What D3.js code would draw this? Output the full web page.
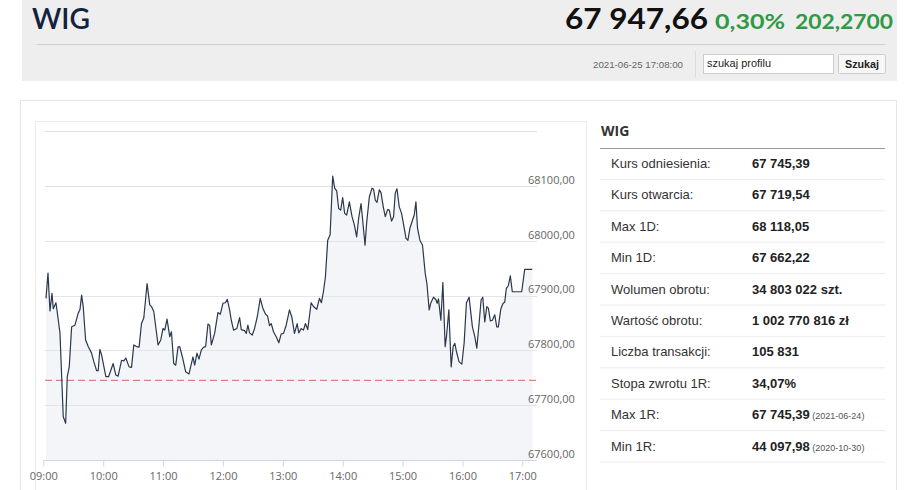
<!DOCTYPE html>
<html><head><meta charset="utf-8">
<script src="https://cdn.jsdelivr.net/npm/d3@7"></script>
<style>
html,body{margin:0;padding:0;background:#fff;}
svg{display:block;}
</style></head>
<body>
<div id="chart"></div>
<script>
// ---- data ----
const minutesAfterOpen = [2.7,4.7,6.7,8.7,10,12.7,16.7,20,22.4,24,26,28.4,31.7,35,36.7,38.4,40,42.4,45,48.4,50.7,53.4,55,56.7,58.4,62.7,65.4,70,72.7,75,78.4,80.7,82.7,86,88.4,90.7,93.4,96,98.4,100.7,104,106.7,108.4,110.7,115,117.7,120,121.7,124,126.7,128.4,130.7,132.7,135,136.7,139.4,142.7,146,150,151.7,154,156,158.4,160.7,162.7,165,166.7,168.4,171.7,175,177.4,180,182.4,184.4,186.7,188.4,190.7,194,196.7,198.4,201.7,203.4,205,206.7,209.4,211.7,214.4,217.4,220,222.7,224.7,226.7,228.4,230.7,233.4,236,238.4,240.7,243.4,246.7,249,251.7,254.4,256,258.4,260.7,262.7,265,268.4,270.7,274,276.7,278.7,280.7,282.7,285,287.4,290,292,294,296,298,300,302,304,306.7,309.4,311.7,314,316,318.4,320,322.4,324,326.7,329.4,331,332.7,334.4,336.7,338.4,340.7,342.7,345,346.7,349,351,352.7,354.4,356.7,359,361.7,363.4,365.4,367.4,370,371.7,373.4,375,377.4,380,382.7,384.4,386.7,388.4,391,393.4,394.7,396,398.4,400.4,402.7,404,406.4,408.7,410.7,412.4,414,416.7,419.4,421.7,424,426.7,428.4,430,432.4,434.4,436.7,438.7,440.4,442.4,444.4,446,448,450,452.4,454.4,456,458.4,460.7,462.4,464,466,468,470,472,479.4,482.4,490];
const prices = [67895,67941,67872,67904,67876,67887,67832,67679,67667,67752,67770,67843,67846,67868,67874,67901,67880,67819,67807,67795,67779,67763,67763,67802,67792,67752,67752,67776,67755,67753,67782,67781,67786,67770,67769,67810,67807,67806,67849,67859,67922,67883,67880,67871,67810,67819,67840,67837,67857,67825,67834,67776,67773,67806,67807,67788,67761,67757,67788,67773,67795,67784,67801,67806,67807,67848,67846,67810,67831,67869,67866,67886,67887,67893,67874,67855,67837,67840,67860,67838,67836,67831,67846,67832,67828,67840,67861,67895,67877,67866,67863,67845,67849,67834,67825,67814,67830,67831,67846,67874,67861,67831,67849,67832,67840,67837,67849,67838,67887,67880,67875,67895,67887,67907,67934,68001,68011,68118,68096,68091,68059,68056,68079,68050,68047,68071,68044,68029,68007,68041,68068,68038,67992,68032,68080,68096,68094,68074,68070,68093,68088,68062,68044,68057,68056,68036,68044,68087,68095,68062,68050,68023,68005,68001,68023,68038,68047,68071,68023,68001,67992,67941,67922,67874,67887,67897,67893,67886,67894,67855,67924,67807,67825,67874,67770,67807,67813,67798,67779,67775,67813,67887,67897,67869,67843,67825,67804,67849,67892,67897,67852,67880,67877,67854,67855,67865,67843,67843,67875,67886,67888,67913,67918,67936,67907,67907,67907,67948,67948];
const referencePrice = 67745.39;
const yTickValues = [67600,67700,67800,67900,68000,68100,68200];
const yTickLabels = ["67600,00","67700,00","67800,00","67900,00","68000,00","68100,00",""];
const xTickLabels = ["09:00","10:00","11:00","12:00","13:00","14:00","15:00","16:00","17:00"];

const headerName = "WIG";
const headerPrice = "67 947,66";
const headerChangePct = "0,30%";
const headerChange = "202,2700";
const headerDate = "2021-06-25 17:08:00";

const statLabels = ["Kurs odniesienia:","Kurs otwarcia:","Max 1D:","Min 1D:","Wolumen obrotu:","Wartość obrotu:","Liczba transakcji:","Stopa zwrotu 1R:","Max 1R:","Min 1R:"];
const statValues = ["67 745,39","67 719,54","68 118,05","67 662,22","34 803 022 szt.","1 002 770 816 zł","105 831","34,07%","67 745,39","44 097,98"];
const statNotes = ["","","","","","","","","(2021-06-24)","(2020-10-30)"];

// ---- drawing ----
const W = 918, H = 490;
const svg = d3.select("#chart").append("svg").attr("width", W).attr("height", H);

// header
svg.append("rect").attr("x",22).attr("y",0).attr("width",875).attr("height",81).attr("fill","#eeeeee");
svg.append("text").attr("x",32).attr("y",28.5).text(headerName)
  .attr("font-family","Lato").attr("font-weight",600).attr("font-size",29).attr("fill","#14233d")
  .attr("textLength",58).attr("lengthAdjust","spacingAndGlyphs");
svg.append("text").attr("x",708).attr("y",29).attr("text-anchor","end").text(headerPrice)
  .attr("font-family","Lato").attr("font-weight",700).attr("font-size",29).attr("fill","#111")
  .attr("textLength",143).attr("lengthAdjust","spacingAndGlyphs");
svg.append("text").attr("x",715).attr("y",29).text(headerChangePct)
  .attr("font-family","Lato").attr("font-weight",700).attr("font-size",21).attr("fill","#2f9a45")
  .attr("textLength",70).attr("lengthAdjust","spacingAndGlyphs");
svg.append("text").attr("x",795).attr("y",29).text(headerChange)
  .attr("font-family","Lato").attr("font-weight",700).attr("font-size",21).attr("fill","#2f9a45")
  .attr("textLength",98).attr("lengthAdjust","spacingAndGlyphs");
svg.append("line").attr("x1",37).attr("x2",885).attr("y1",44.5).attr("y2",44.5).attr("stroke","#cfcfcf");
svg.append("text").attr("x",683).attr("y",68).attr("text-anchor","end").text(headerDate)
  .attr("font-family","Liberation Sans Narrow, Liberation Sans").attr("font-size",9).attr("fill","#666")
  .attr("textLength",90).attr("lengthAdjust","spacingAndGlyphs");
svg.append("line").attr("x1",695.5).attr("x2",695.5).attr("y1",51).attr("y2",78).attr("stroke","#dcdcdc");
svg.append("rect").attr("x",703.5).attr("y",54.5).attr("width",130).attr("height",19).attr("fill","#fff").attr("stroke","#cccccc");
svg.append("text").attr("x",707).attr("y",67).text("szukaj profilu")
  .attr("font-family","Liberation Sans Narrow, Liberation Sans").attr("font-size",11).attr("fill","#222")
  .attr("textLength",64).attr("lengthAdjust","spacingAndGlyphs");
svg.append("rect").attr("x",838.5).attr("y",54.5).attr("width",47).attr("height",19).attr("fill","#f7f7f7").attr("stroke","#cccccc").attr("rx",1);
svg.append("text").attr("x",862).attr("y",68).attr("text-anchor","middle").text("Szukaj")
  .attr("font-family","Liberation Sans Narrow, Liberation Sans").attr("font-weight",700).attr("font-size",11).attr("fill","#222")
  .attr("textLength",34).attr("lengthAdjust","spacingAndGlyphs");

// panel borders
svg.append("rect").attr("x",20.5).attr("y",100.5).attr("width",876).attr("height",400).attr("fill","none").attr("stroke","#e6e6e6");
svg.append("rect").attr("x",35.5).attr("y",121.5).attr("width",551).attr("height",380).attr("fill","none").attr("stroke","#ebebeb");

// chart
const t0 = new Date(2021,5,25,9,0,0);
const data = minutesAfterOpen.map((m,i)=>({t:new Date(t0.getTime()+m*60000), v:prices[i]}));
const x = d3.scaleTime().domain([t0, new Date(2021,5,25,17,0,0)]).range([43.3, 522.3]);
const y = d3.scaleLinear().domain([67600, 68100]).range([460, 186]);
const plotLeft = 45, plotRight = 537;

const g = svg.append("g");
// grid
g.selectAll("line.grid").data(yTickValues.slice(1)).join("line")
  .attr("x1",plotLeft).attr("x2",plotRight)
  .attr("y1",d=>Math.round(y(d))+0.5).attr("y2",d=>Math.round(y(d))+0.5)
  .attr("stroke","#e0e0e0");

// area
const area = d3.area().x(d=>x(d.t)).y0(y(67600)).y1(d=>y(d.v));
g.append("path").datum(data).attr("d",area).attr("fill","#f4f5f8");
// grid over area
g.selectAll("line.grid2").data(yTickValues.slice(1,5)).join("line")
  .attr("x1",plotLeft).attr("x2",plotRight)
  .attr("y1",d=>Math.round(y(d))+0.5).attr("y2",d=>Math.round(y(d))+0.5)
  .attr("stroke","#e3e4e7");

// reference line
g.append("line").attr("x1",plotLeft).attr("x2",plotRight)
  .attr("y1",y(referencePrice)).attr("y2",y(referencePrice))
  .attr("stroke","#d9655f").attr("stroke-width",1).attr("stroke-dasharray","7,4");

// price line
const line = d3.line().x(d=>x(d.t)).y(d=>y(d.v));
g.append("path").datum(data).attr("d",line).attr("fill","none")
  .attr("stroke","#2a374c").attr("stroke-width",1.2).attr("stroke-linejoin","round");

// x axis
const xTicks = d3.timeHour.range(t0, new Date(2021,5,25,17,1,0));
const xAxis = d3.axisBottom(x).tickValues(xTicks).tickFormat((d,i)=>xTickLabels[i]).tickSize(6).tickPadding(6);
const xa = svg.append("g").attr("transform","translate(0,460.5)").call(xAxis);
xa.select(".domain").attr("d",`M${43}.5,0H${plotRight}`).attr("stroke","#cfd6e3");
xa.selectAll(".tick line").attr("stroke","#cfd6e3");
xa.selectAll(".tick text").attr("font-family","Open Sans").attr("font-size",11).attr("fill","#666");

// y axis labels
const yAxis = d3.axisRight(y).tickValues(yTickValues.slice(0,6)).tickFormat((d,i)=>yTickLabels[i]).tickSize(0).tickPadding(0);
const ya = svg.append("g").attr("transform","translate(528,0)").call(yAxis);
ya.select(".domain").remove();
ya.selectAll(".tick text").attr("font-family","Open Sans").attr("font-size",11).attr("fill","#666").attr("dy","-0.25em");

// stats table
svg.append("text").attr("x",601).attr("y",136).text(headerName)
  .attr("font-family","Open Sans").attr("font-weight",700).attr("font-size",14).attr("fill","#333");
svg.append("line").attr("x1",600).attr("x2",885).attr("y1",148.5).attr("y2",148.5).attr("stroke","#999");
const rowY = d3.scaleLinear().domain([0, statLabels.length]).range([148, 462]);
const rows = svg.append("g").selectAll("g").data(statLabels).join("g")
  .attr("transform",(d,i)=>`translate(0,${rowY(i)})`);
rows.append("text").attr("x",611).attr("y",20).text(d=>d)
  .attr("font-family","Liberation Sans").attr("font-size",13).attr("fill","#333");
rows.append("text").attr("x",752).attr("y",20)
  .attr("font-family","Liberation Sans").attr("font-size",13).attr("fill","#222")
  .each(function(d,i){
    const t = d3.select(this);
    t.append("tspan").attr("font-weight",700).text(statValues[i]);
    if (statNotes[i]) t.append("tspan").attr("font-size",9).attr("fill","#555").text(" " + statNotes[i]);
  });
rows.append("line").attr("x1",600).attr("x2",885).attr("y1",31.4).attr("y2",31.4).attr("stroke","#ececec");
</script>
</body></html>
